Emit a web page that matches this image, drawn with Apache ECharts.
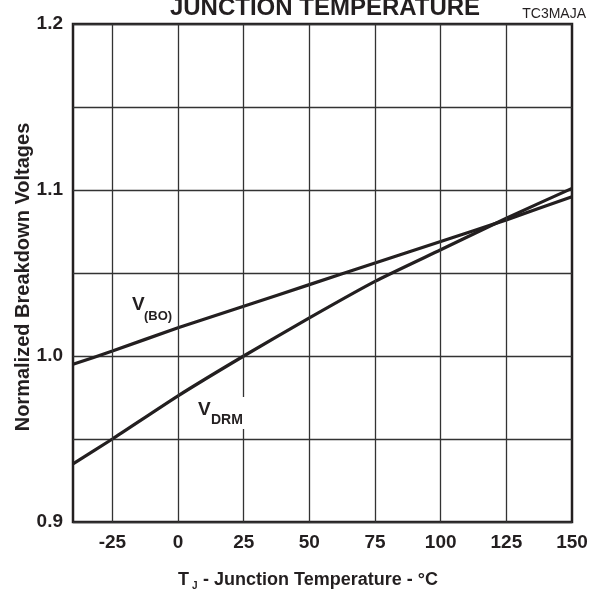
<!DOCTYPE html>
<html>
<head>
<meta charset="utf-8">
<script src="https://cdn.jsdelivr.net/npm/echarts@6/dist/echarts.min.js"></script>
<style>
  html, body { margin: 0; padding: 0; background: #fff; }
  #chart { width: 598px; height: 595px; }
</style>
</head>
<body>
<div id="chart"></div>
<script>
// 数据
var temps = [-40, -25, 0, 25, 50, 75, 100, 125, 150];
var vBO = [0.995, 1.003, 1.017, 1.030, 1.043, 1.056, 1.069, 1.082, 1.096];
var vDRM = [0.935, 0.950, 0.976, 1.000, 1.023, 1.045, 1.064, 1.083, 1.101];
var xTicks = [-25, 0, 25, 50, 75, 100, 125, 150];
var xGrid = [-25, 0, 25, 50, 75, 100, 125];
var yLabels = [0.9, 1.0, 1.1, 1.2];

var ink = '#231f20';
var font = "'Liberation Sans', Arial, sans-serif";

var toPairs = function (vals) {
  var out = [];
  for (var i = 0; i < temps.length; i++) {
    out.push([temps[i], vals[i]]);
  }
  return out;
};

var myChart = echarts.init(document.getElementById('chart'), null, { renderer: 'canvas' });

var option = {
  backgroundColor: '#fff',
  animation: false,
  grid: {
    left: 73, right: 26, top: 24, bottom: 73,
    show: true,
    borderWidth: 2.5,
    borderColor: ink,
    backgroundColor: 'transparent'
  },
  xAxis: {
    type: 'value',
    min: -40,
    max: 150,
    axisLine: { show: false },
    axisTick: { show: false },
    splitLine: { show: false },
    axisLabel: {
      customValues: xTicks,
      margin: 11,
      color: ink,
      fontFamily: font,
      fontWeight: 'bold',
      fontSize: 19
    }
  },
  yAxis: {
    type: 'value',
    min: 0.9,
    max: 1.2,
    interval: 0.05,
    axisLine: { show: false },
    axisTick: { show: false },
    splitLine: { show: true, lineStyle: { color: '#333', width: 1.3 } },
    axisLabel: {
      margin: 10,
      color: ink,
      fontFamily: font,
      fontWeight: 'bold',
      fontSize: 19,
      formatter: function (v) {
        for (var i = 0; i < yLabels.length; i++) {
          if (Math.abs(v - yLabels[i]) < 1e-6) return yLabels[i].toFixed(1);
        }
        return '';
      }
    }
  },
  series: [
    {
      name: 'V(BO)',
      type: 'line',
      data: toPairs(vBO),
      smooth: 0.2,
      showSymbol: false,
      z: 3,
      lineStyle: { color: ink, width: 3.2 },
      // 竖向网格线
      markLine: {
        silent: true,
        symbol: 'none',
        label: { show: false },
        lineStyle: { color: '#333', width: 1.3, type: 'solid' },
        data: xGrid.map(function (x) { return { xAxis: x }; })
      }
    },
    {
      name: 'V(DRM)',
      type: 'line',
      data: toPairs(vDRM),
      smooth: 0.2,
      showSymbol: false,
      z: 3,
      lineStyle: { color: ink, width: 3.2 }
    }
  ],
  graphic: [
    { type: 'text', x: 325, y: 8, z: 10,
      style: { text: 'JUNCTION TEMPERATURE', fill: ink, font: 'bold 24px ' + font, textAlign: 'center', textVerticalAlign: 'middle' } },
    { type: 'text', x: 586, y: 14, z: 10,
      style: { text: 'TC3MAJA', fill: ink, font: '14px ' + font, textAlign: 'right', textVerticalAlign: 'middle' } },
    // y轴标题
    { type: 'text', x: 23, y: 277, rotation: Math.PI / 2, z: 10,
      style: { text: 'Normalized Breakdown Voltages', fill: ink, font: 'bold 20px ' + font, textAlign: 'center', textVerticalAlign: 'middle' } },
    // x轴标题
    { type: 'text', x: 178, y: 580, z: 10,
      style: { text: 'T', fill: ink, font: 'bold 18px ' + font, textAlign: 'left', textVerticalAlign: 'middle' } },
    { type: 'text', x: 192, y: 586, z: 10,
      style: { text: 'J', fill: ink, font: 'bold 10px ' + font, textAlign: 'left', textVerticalAlign: 'middle' } },
    { type: 'text', x: 203, y: 580, z: 10,
      style: { text: '- Junction Temperature - °C', fill: ink, font: 'bold 18px ' + font, textAlign: 'left', textVerticalAlign: 'middle' } },
    // 曲线标注
    { type: 'text', x: 132, y: 305, z: 10,
      style: { text: 'V', fill: ink, font: 'bold 19px ' + font, textAlign: 'left', textVerticalAlign: 'middle' } },
    { type: 'text', x: 144, y: 316, z: 10,
      style: { text: '(BO)', fill: ink, font: 'bold 13px ' + font, textAlign: 'left', textVerticalAlign: 'middle' } },
    { type: 'rect', z: 8, shape: { x: 196, y: 397, width: 52, height: 32 }, style: { fill: '#fff' } },
    { type: 'text', x: 198, y: 410, z: 10,
      style: { text: 'V', fill: ink, font: 'bold 19px ' + font, textAlign: 'left', textVerticalAlign: 'middle' } },
    { type: 'text', x: 211, y: 420, z: 10,
      style: { text: 'DRM', fill: ink, font: 'bold 14px ' + font, textAlign: 'left', textVerticalAlign: 'middle' } }
  ]
};

myChart.setOption(option);
</script>
</body>
</html>
